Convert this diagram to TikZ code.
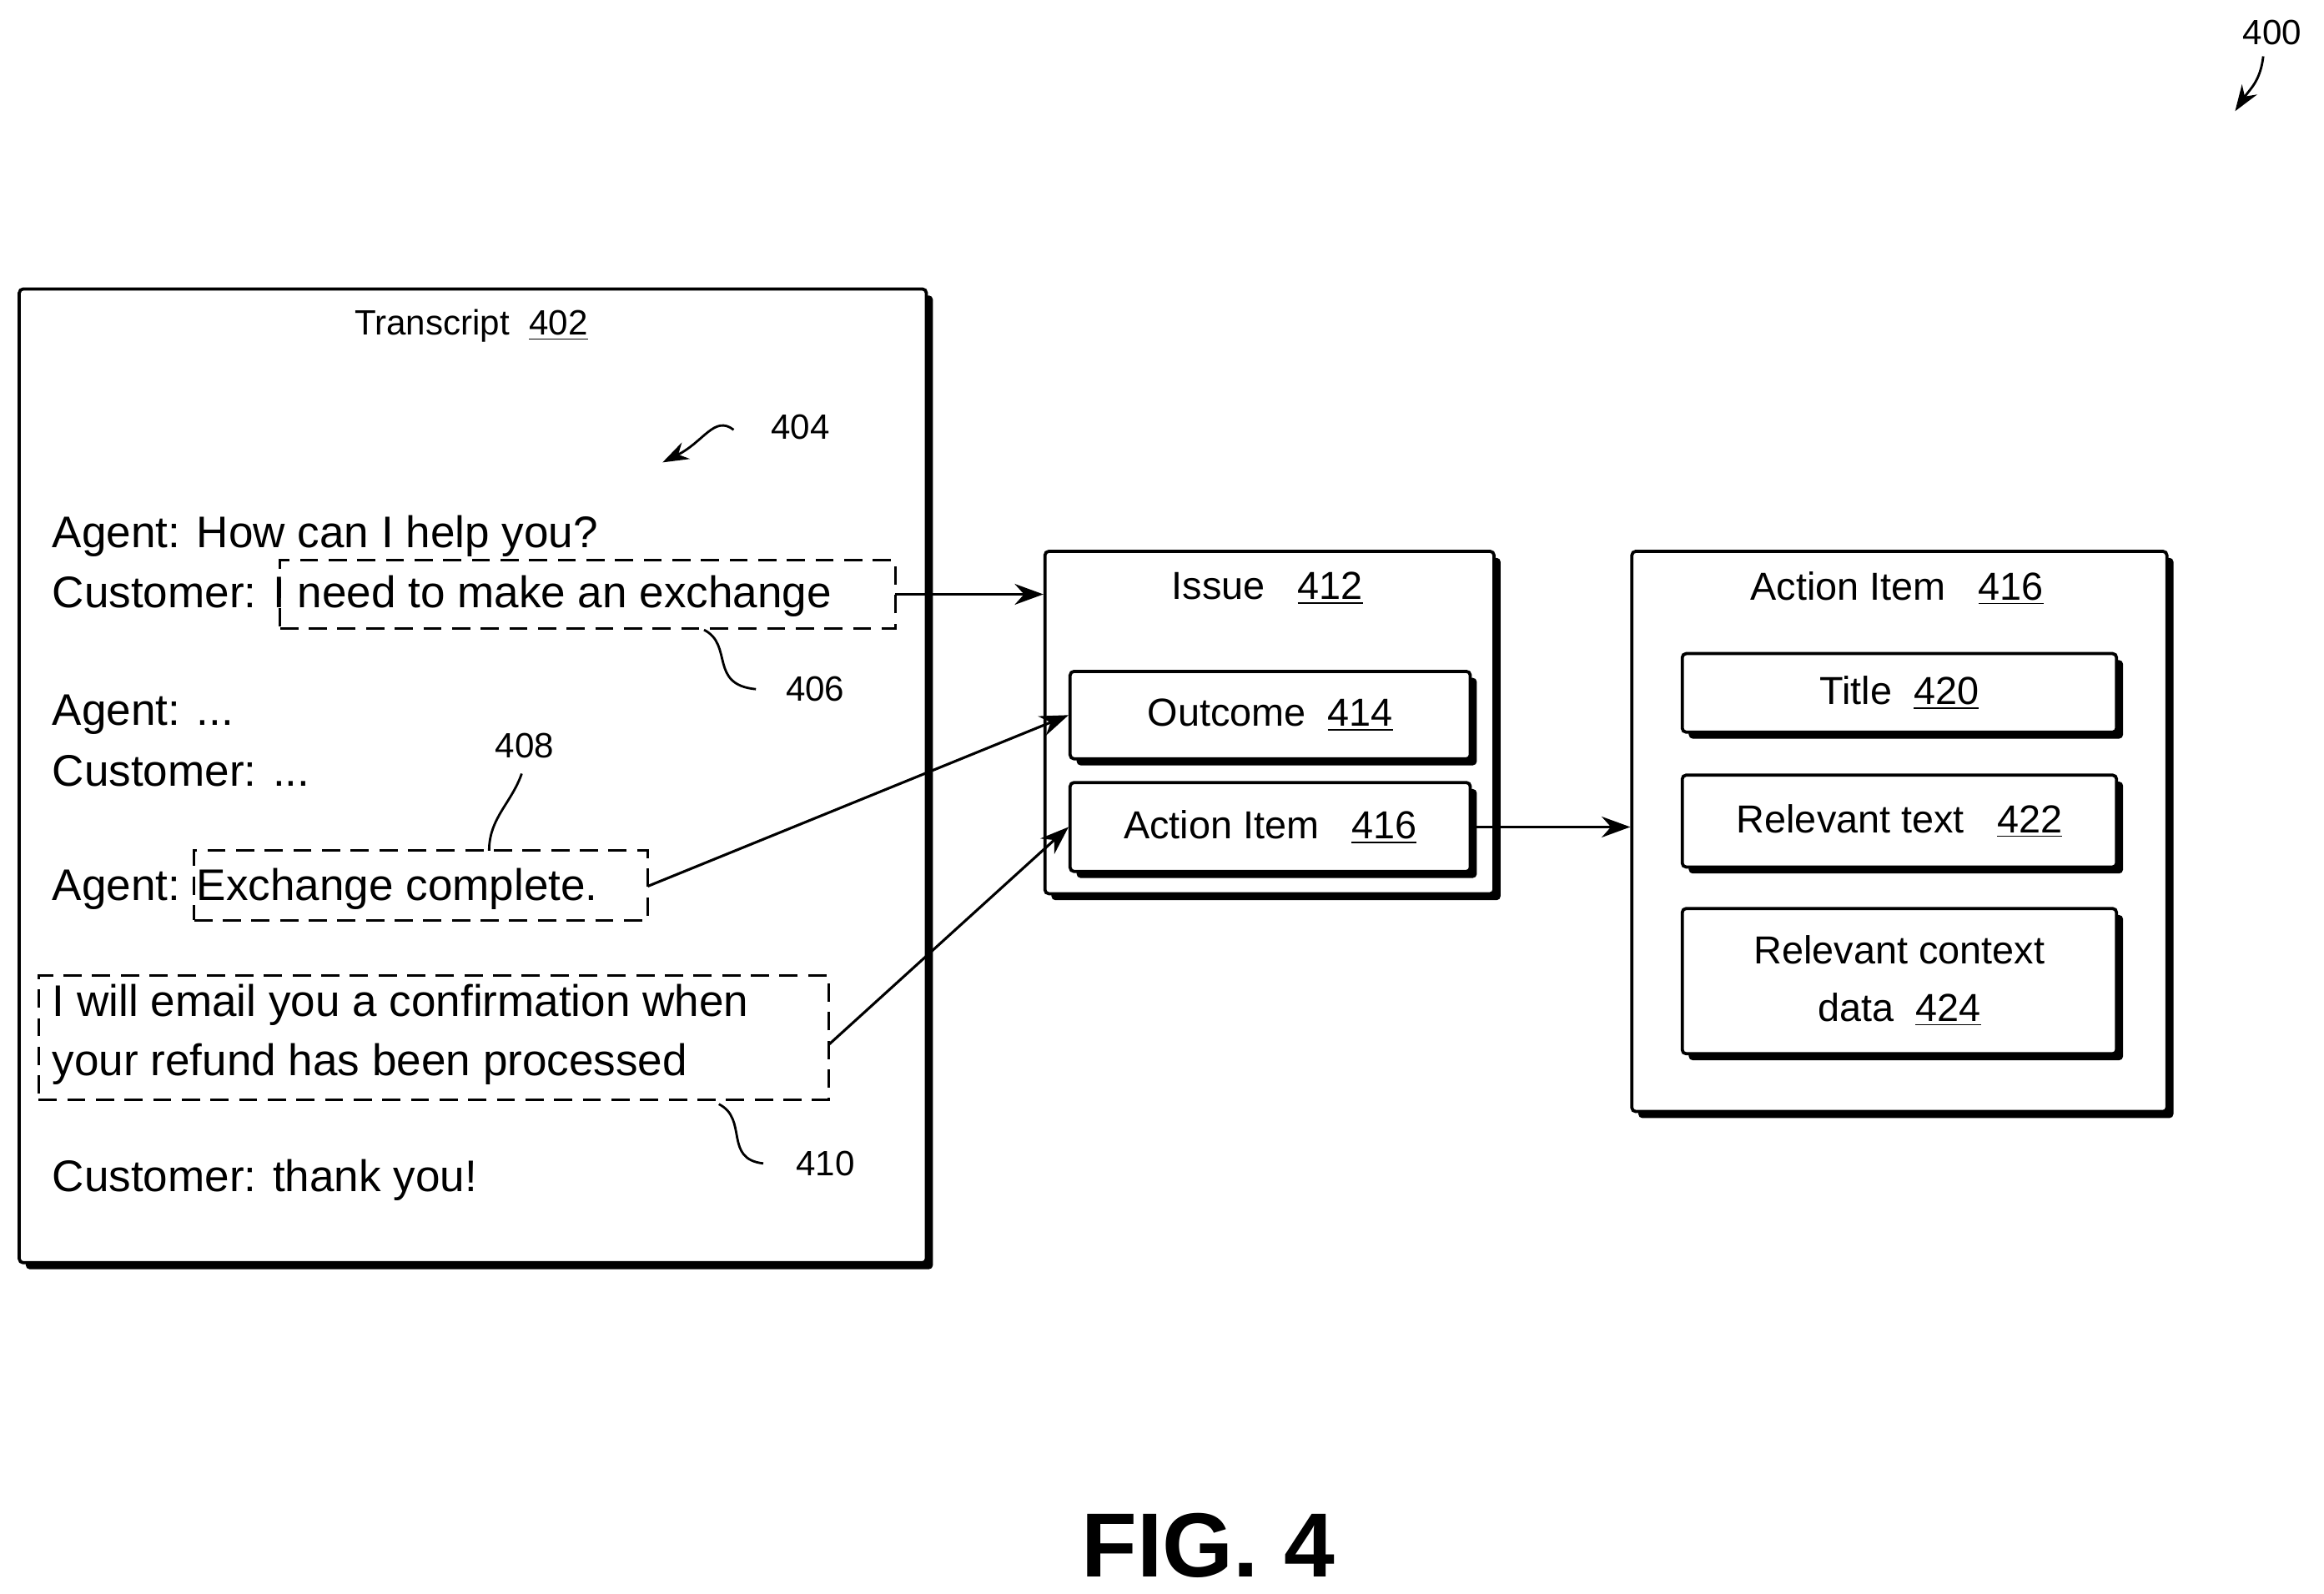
\documentclass[tikz,border=0pt]{standalone}
\usepackage{fontspec}
\setmainfont{Liberation Sans}
\usetikzlibrary{shadows,fit,arrows.meta}
\begin{document}
\begin{tikzpicture}[x=0.02cm,y=-0.02cm,
 box/.style={draw,line width=1.2pt,fill=white,rounded corners=1.5pt,inner sep=0,
   drop shadow={shadow xshift=2.5pt,shadow yshift=-2.5pt,fill=black,opacity=1}},
 dbox/.style={draw,dashed,line width=0.9pt,dash pattern=on 7pt off 4pt,inner sep=0},
 lbl/.style={font=\fontsize{13.5}{16}\selectfont,inner sep=0},
 txt/.style={font=\fontsize{17}{21}\selectfont,anchor=west,inner sep=0},
 arr/.style={line width=1pt,-{Stealth[length=11pt,width=8pt]}},
 sq/.style={line width=0.9pt}]
\useasboundingbox (0,0) rectangle (1568,1075);
% Transcript
\node[box,fit={(13,195)(625,852)}] (tr) {};
\node[lbl] (trl) at (318,220) {Transcript\ \ \underline{402}};
\node[lbl] (n404) at (540,288) {404};
\draw[sq,-{Stealth[length=10pt,width=7pt]}] (495,290) .. controls (482,280) and (475,298) .. (447,312);
\node[txt] (t1) at (35,362) {Agent: How can I help you?};
\node[txt] (t2) at (35,402) {Customer: I need to make an exchange};
\node[txt] (t3) at (35,482) {Agent: ...};
\node[txt] (t4) at (35,520) {Customer: ...};
\node[txt] (t5) at (35,600) {Agent: Exchange complete.};
\node[txt] (t6) at (35,678) {I will email you a confirmation when};
\node[txt] (t7) at (35,718) {your refund has been processed};
\node[txt] (t8) at (35,796) {Customer: thank you!};
\node[dbox,fit={(189,378)(604,424)}] (d1) {};
\node[dbox,fit={(131,574)(437,621)}] (d2) {};
\node[dbox,fit={(26,658)(559,742)}] (d3) {};
\node[lbl] (n406) at (550,465) {406};
\draw[sq] (475,425) .. controls (495,435) and (478,462) .. (510,465);
\node[lbl] (n408) at (354,503) {408};
\draw[sq] (352,522) .. controls (345,542) and (330,552) .. (330,574);
\node[lbl] (n410) at (557,785) {410};
\draw[sq] (485,745) .. controls (505,755) and (488,782) .. (515,785);
% Issue
\node[box,fit={(705,372)(1008,603)}] (iss) {};
\node[lbl,font=\fontsize{15}{18}\selectfont] (issl) at (855,397) {Issue\ \ \ \underline{412}};
\node[box,fit={(722,453)(992,512)}] (out) {};
\node[lbl,font=\fontsize{15}{18}\selectfont] at (out) {Outcome\ \ \underline{414}};
\node[box,fit={(722,528)(992,588)}] (ai) {};
\node[lbl,font=\fontsize{15}{18}\selectfont] at (ai) {Action Item\ \ \ \underline{416}};
% Action item
\node[box,fit={(1101,372)(1462,750)}] (aib) {};
\node[lbl,font=\fontsize{15}{18}\selectfont] (aibl) at (1280,397) {Action Item\ \ \ \underline{416}};
\node[box,fit={(1135,441)(1428,494)}] (tit) {};
\node[lbl,font=\fontsize{15}{18}\selectfont] at (tit) {Title\ \ \underline{420}};
\node[box,fit={(1135,523)(1428,585)}] (rt) {};
\node[lbl,font=\fontsize{15}{18}\selectfont] at (rt) {Relevant text\ \ \ \underline{422}};
\node[box,fit={(1135,613)(1428,711)}] (rc) {};
\node[lbl,font=\fontsize{15}{18}\selectfont,align=center] at (rc) {Relevant context\\[4pt] data\ \ \underline{424}};
% arrows
\coordinate (a1) at (604,401);
\coordinate (a2) at (437,598);
\coordinate (a3) at (559,705);
\draw[arr] (a1) -- (iss.west |- a1);
\draw[arr] (a2) -- (out.west);
\draw[arr] (a3) -- (ai.west);
\draw[arr] (ai.east) -- (aib.west |- ai.east);
% fig
\node[font=\fontsize{35}{40}\selectfont\bfseries] (fig) at (815,1043) {FIG. 4};
\node[lbl] (n400) at (1533,22) {400};
\draw[sq,-{Stealth[length=10pt,width=7pt]}] (1527,38) .. controls (1525,55) and (1518,60) .. (1508,75);
\end{tikzpicture}
\end{document}
